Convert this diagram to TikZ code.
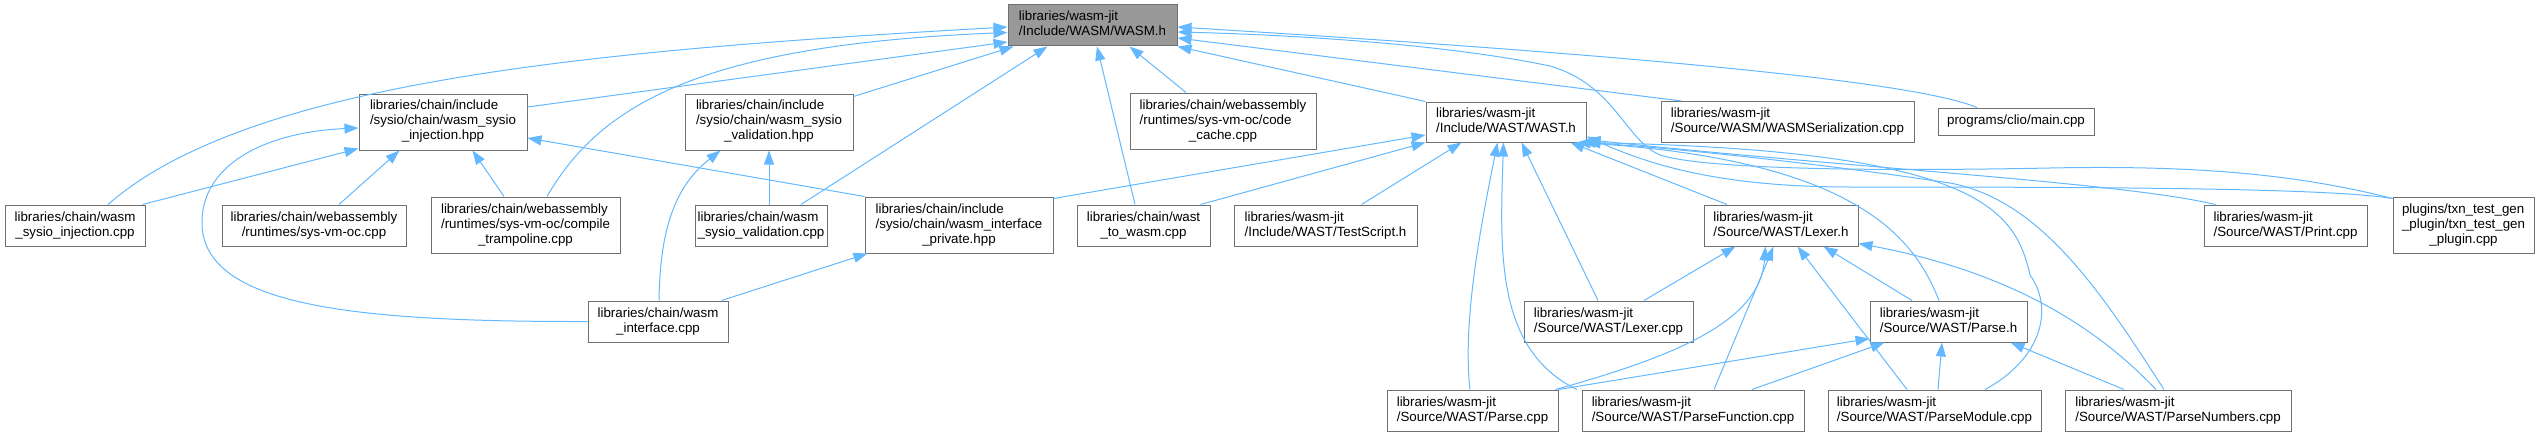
\documentclass[tikz,border=0pt]{standalone}
\usepackage{fontspec}
\setmainfont{Liberation Sans}
\usetikzlibrary{arrows.meta}

\definecolor{edgeblue}{HTML}{63B8FF}
\definecolor{boxline}{HTML}{707070}
\definecolor{rootfill}{HTML}{999999}

\newcommand{\twolines}[2]{\begin{tabular}{@{}l@{}}#1\\\multicolumn{1}{@{}c@{}}{#2}\end{tabular}}
\newcommand{\threelines}[3]{\begin{tabular}{@{}l@{}}#1\\#2\\\multicolumn{1}{@{}c@{}}{#3}\end{tabular}}

\begin{document}
\begin{tikzpicture}[
    x=1pt, y=-1pt,
    file/.style={rectangle, draw=boxline, fill=white, line width=1pt, inner sep=0pt, font=\fontsize{13.33}{15}\selectfont, minimum height=41pt},
    tall/.style={minimum height=56pt},
    root/.style={file, fill=rootfill},
    arrow/.style={draw=edgeblue, line width=1pt, -{Triangle[length=14pt,width=10pt]}}
]
\useasboundingbox (0,0) rectangle (2538,436);

\node[root, minimum width=169pt] (wasmh) at (1092.5,25.5) {\twolines{libraries/wasm-jit}{/Include/WASM/WASM.h}};
\node[file, tall, minimum width=168pt] (injhpp) at (443,122) {\threelines{libraries/chain/include}{/sysio/chain/wasm\_sysio}{\_injection.hpp}};
\node[file, tall, minimum width=168pt] (valhpp) at (769,122) {\threelines{libraries/chain/include}{/sysio/chain/wasm\_sysio}{\_validation.hpp}};
\node[file, tall, minimum width=186pt] (cache) at (1223,121) {\threelines{libraries/chain/webassembly}{/runtimes/sys-vm-oc/code}{\_cache.cpp}};
\node[file, minimum width=160pt, minimum height=40pt] (wasth) at (1506,122) {\twolines{libraries/wasm-jit}{/Include/WAST/WAST.h}};
\node[file, minimum width=253pt] (serial) at (1787.5,122) {\twolines{libraries/wasm-jit}{/Source/WASM/WASMSerialization.cpp}};
\node[file, minimum width=156pt, minimum height=27pt] (clio) at (2016,121.5) {programs/clio/main.cpp};

\node[file, minimum width=140pt] (injcpp) at (75,225.5) {\twolines{libraries/chain/wasm}{\_sysio\_injection.cpp}};
\node[file, minimum width=184pt] (vmoc) at (314,225.5) {\twolines{libraries/chain/webassembly}{/runtimes/sys-vm-oc.cpp}};
\node[file, tall, minimum width=189pt] (tramp) at (525.5,225) {\threelines{libraries/chain/webassembly}{/runtimes/sys-vm-oc/compile}{\_trampoline.cpp}};
\node[file, minimum width=132pt] (valcpp) at (761,225.5) {\twolines{libraries/chain/wasm}{\_sysio\_validation.cpp}};
\node[file, tall, minimum width=188pt] (priv) at (959,225) {\threelines{libraries/chain/include}{/sysio/chain/wasm\_interface}{\_private.hpp}};
\node[file, minimum width=133pt] (tow) at (1143.5,225.5) {\twolines{libraries/chain/wast}{\_to\_wasm.cpp}};
\node[file, minimum width=183pt] (tscript) at (1325.5,225.5) {\twolines{libraries/wasm-jit}{/Include/WAST/TestScript.h}};
\node[file, minimum width=154pt] (lexh) at (1781,225.5) {\twolines{libraries/wasm-jit}{/Source/WAST/Lexer.h}};
\node[file, minimum width=163pt] (print) at (2285.5,225.5) {\twolines{libraries/wasm-jit}{/Source/WAST/Print.cpp}};
\node[file, tall, minimum width=141pt] (txn) at (2463.5,225) {\threelines{plugins/txn\_test\_gen}{\_plugin/txn\_test\_gen}{\_plugin.cpp}};

\node[file, minimum width=140pt] (iface) at (658,321.5) {\twolines{libraries/chain/wasm}{\_interface.cpp}};
\node[file, minimum width=169pt] (lexcpp) at (1608.5,321.5) {\twolines{libraries/wasm-jit}{/Source/WAST/Lexer.cpp}};
\node[file, minimum width=157pt] (parseh) at (1948.5,321.5) {\twolines{libraries/wasm-jit}{/Source/WAST/Parse.h}};

\node[file, minimum width=171pt] (parsecpp) at (1472.5,410.5) {\twolines{libraries/wasm-jit}{/Source/WAST/Parse.cpp}};
\node[file, minimum width=222pt] (pfunc) at (1693,410.5) {\twolines{libraries/wasm-jit}{/Source/WAST/ParseFunction.cpp}};
\node[file, minimum width=213pt] (pmod) at (1934.5,410.5) {\twolines{libraries/wasm-jit}{/Source/WAST/ParseModule.cpp}};
\node[file, minimum width=226pt] (pnum) at (2178,410.5) {\twolines{libraries/wasm-jit}{/Source/WAST/ParseNumbers.cpp}};

\draw[arrow] ([xshift=33pt]injcpp.north) .. controls (250,80) and (600,50) .. ([yshift=-1.5pt]wasmh.west);
\draw[arrow] ([xshift=21.5pt]tramp.north) .. controls (600,105) and (700,45) .. ([yshift=-7pt]wasmh.west);
\draw[arrow] ([yshift=15pt]injhpp.east) -- ([yshift=-16.5pt]wasmh.west);
\draw[arrow] ([yshift=-3pt]valhpp.north east) -- ([xshift=6pt]wasmh.south west);
\draw[arrow] ([xshift=40pt]valcpp.north) -- ([xshift=40pt]wasmh.south west);
\draw[arrow] ([xshift=-8.5pt]tow.north) -- ([xshift=4.5pt]wasmh.south);
\draw[arrow] ([xshift=-37pt]cache.north) -- ([xshift=37pt]wasmh.south);
\draw[arrow] (wasth.north west) -- (wasmh.south east);
\draw[arrow] ([xshift=21pt]serial.north west) -- ([yshift=-12.5pt]wasmh.east);
\draw[arrow] ([xshift=-39pt]clio.north) .. controls (1930,88) and (1750,62) .. ([yshift=-1.5pt]wasmh.east);
\draw[arrow] ([yshift=-2pt]txn.north west) .. controls (2300,175) and (2200,165) .. (2050,168)
    .. controls (1850,172) and (1700,168) .. (1660,155) .. controls (1625,140) and (1615,85) .. (1550,66)
    .. controls (1450,45) and (1300,35) .. ([yshift=-6.5pt]wasmh.east);

\draw[arrow] ([xshift=-3pt]injcpp.north east) -- ([yshift=2pt]injhpp.south west);
\draw[arrow] (iface.west) .. controls (350,322) and (205,305) .. (202,225) .. controls (200,165) and (265,132) .. ([yshift=-6pt]injhpp.west);
\draw[arrow] ([xshift=25pt]vmoc.north) -- ([xshift=41pt]injhpp.south west);
\draw[arrow] ([xshift=-21.5pt]tramp.north) -- ([xshift=114pt]injhpp.south west);
\draw[arrow] (priv.north west) -- ([yshift=-16pt]injhpp.east);

\draw[arrow] ([xshift=8pt]valcpp.north) -- (valhpp.south);
\draw[arrow] ([xshift=1pt]iface.north) .. controls (660,240) and (670,190) .. ([xshift=36pt]valhpp.south west);
\draw[arrow] ([xshift=-7pt]iface.north east) -- ([xshift=3pt]priv.south west);

\draw[arrow] ([yshift=-2pt]priv.north east) -- ([yshift=-13pt]wasth.west);
\draw[arrow] ([xshift=-10pt]tow.north east) -- (wasth.south west);
\draw[arrow] ([xshift=36pt]tscript.north) -- ([xshift=36pt]wasth.south west);
\draw[arrow] ([xshift=-2.5pt]parsecpp.north) .. controls (1462,320) and (1482,220) .. ([xshift=72pt]wasth.south west);
\draw[arrow] ([xshift=-116pt]pfunc.north) .. controls (1495,350) and (1500,250) .. ([xshift=78pt]wasth.south west);
\draw[arrow] ([xshift=-10.5pt]lexcpp.north) -- ([xshift=96pt]wasth.south west);
\draw[arrow] ([xshift=-54pt]lexh.north) -- ([xshift=-16pt]wasth.south east);
\draw[arrow] ([xshift=-9.5pt]parseh.north) .. controls (1915,240) and (1860,160) .. ([xshift=-10pt]wasth.south east);
\draw[arrow] ([xshift=50.5pt]pmod.north) .. controls (2040,360) and (2055,310) .. (2030,275)
    .. controls (2015,210) and (1980,150) .. ([xshift=-5pt]wasth.south east);
\draw[arrow] ([xshift=-14pt]pnum.north) .. controls (2100,290) and (2040,200) .. (1950,183)
    .. controls (1850,168) and (1700,150) .. (wasth.south east);
\draw[arrow] ([xshift=-70pt]print.north) .. controls (2120,182) and (1850,168) .. ([yshift=3pt]wasth.south east);
\draw[arrow] ([yshift=-2pt]txn.north west) .. controls (2330,188) and (2100,187) .. (1850,187)
    .. controls (1720,187) and (1650,165) .. ([yshift=6pt]wasth.south east);

\draw[arrow] ([xshift=35.5pt]lexcpp.north) -- ([xshift=32pt]lexh.south west);
\draw[arrow] ([xshift=-3pt]parsecpp.north east) .. controls (1680,355) and (1760,320) .. ([xshift=62pt]lexh.south west);
\draw[arrow] ([xshift=21pt]pfunc.north) -- ([xshift=70pt]lexh.south west);
\draw[arrow] ([xshift=-27.5pt]pmod.north) -- ([xshift=94pt]lexh.south west);
\draw[arrow] ([xshift=-36.5pt]parseh.north) -- ([xshift=-35pt]lexh.south east);
\draw[arrow] ([xshift=-22pt]pnum.north) .. controls (2090,320) and (2000,270) .. ([yshift=3pt]lexh.south east);

\draw[arrow] (parsecpp.north east) -- ([yshift=4pt]parseh.south west);
\draw[arrow] ([xshift=59pt]pfunc.north) -- ([xshift=15pt]parseh.south west);
\draw[arrow] ([xshift=3.5pt]pmod.north) -- ([xshift=-6.5pt]parseh.south);
\draw[arrow] ([xshift=-54pt]pnum.north) -- ([xshift=-17pt]parseh.south east);
\end{tikzpicture}
\end{document}
